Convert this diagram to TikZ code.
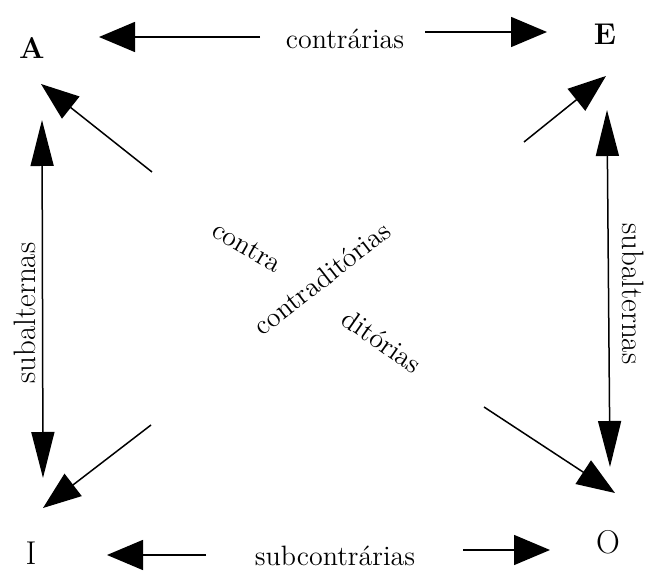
\documentclass[tikz,border=0pt]{standalone}
\usetikzlibrary{arrows.meta}
\begin{document}
\begin{tikzpicture}[x=0.5pt,y=-0.5pt,
  txt/.style={inner sep=0pt,font=\fontsize{14}{16}\selectfont},
  vtx/.style={inner sep=0pt,font=\fontsize{16.5}{18}\selectfont},
  conn/.style={line width=0.75pt},
  hhead/.style={conn,-{Triangle[length=18pt,width=15pt]}},
  dhead/.style={conn,-{Triangle[length=19pt,width=14pt]}},
  vhead/.style={conn,{Triangle[length=23pt,width=11.5pt]}-{Triangle[length=23pt,width=11.5pt]}}
]
\useasboundingbox (0,0) rectangle (649,571);
% vertices
\node[vtx,font=\fontsize{15}{17}\selectfont\bfseries] (A) at (32,48) {A};
\node[vtx,font=\fontsize{15}{17}\selectfont\bfseries] (E) at (605,34) {E};
\node[vtx] (I) at (31,553) {I};
\node[vtx] (O) at (608,542) {O};
% labels
\node[txt] (contr) at (345,39) {contrárias};
\node[txt] (subc) at (335,556) {subcontrárias};
\node[txt,font=\fontsize{15.5}{17}\selectfont,rotate=90] (subL) at (25,313) {subalternas};
\node[txt,font=\fontsize{15.5}{17}\selectfont,rotate=-90] (subR) at (633,294) {subalternas};
\node[txt,rotate=38] (cdit) at (322,278) {contraditórias};
\node[txt,rotate=-30] (cntra) at (247,247) {contra};
\node[txt,rotate=-35] (dit) at (382,341) {ditórias};
% connector end points
\coordinate (tAl) at (260,37);  \coordinate (tA) at (99,37);
\coordinate (tEl) at (425,32);  \coordinate (tE) at (547,32);
\coordinate (bIl) at (206,555); \coordinate (bI) at (107,555);
\coordinate (bOl) at (463,550); \coordinate (bO) at (550,550);
\coordinate (vLt) at (42,120);  \coordinate (vLb) at (43,478);
\coordinate (vRt) at (607,110); \coordinate (vRb) at (610,467);
\coordinate (dAs) at (152,172); \coordinate (dA) at (41,84);
\coordinate (dEs) at (524,142); \coordinate (dE) at (606,76);
\coordinate (dIs) at (151,425); \coordinate (dI) at (43,508);
\coordinate (dOs) at (484,407); \coordinate (dO) at (615,493);
% connectors
\draw[hhead] (tAl) -- (tA);
\draw[hhead] (tEl) -- (tE);
\draw[hhead] (bIl) -- (bI);
\draw[hhead] (bOl) -- (bO);
\draw[vhead] (vLt) -- (vLb);
\draw[vhead] (vRt) -- (vRb);
\draw[dhead] (dAs) -- (dA);
\draw[dhead] (dEs) -- (dE);
\draw[dhead] (dIs) -- (dI);
\draw[dhead] (dOs) -- (dO);
\end{tikzpicture}
\end{document}
